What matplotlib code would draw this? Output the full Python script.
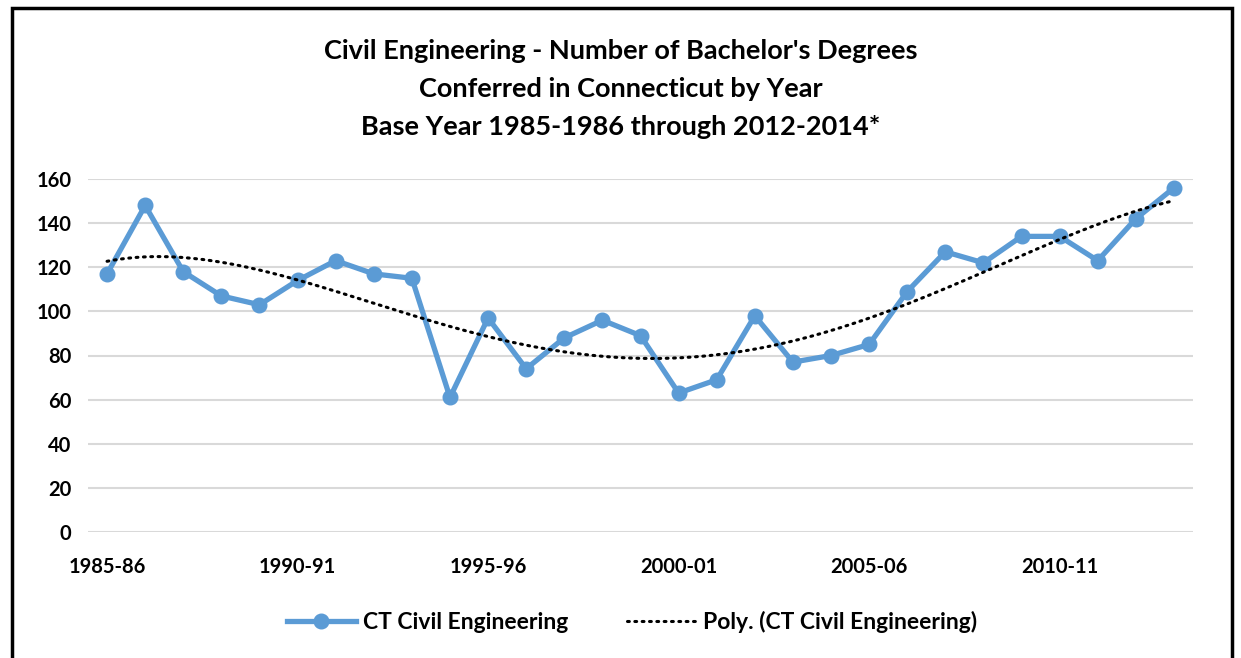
import numpy as np
import matplotlib
matplotlib.use("Agg")
import matplotlib.pyplot as plt
from matplotlib.patches import Rectangle

plt.rcParams['font.family'] = ['Lato', 'DejaVu Sans']

years = [f"{y}-{str(y + 1)[-2:]}" for y in range(1985, 2014)]
values = [117, 148, 118, 107, 103, 114, 123, 117, 115, 61,
          97, 74, 88, 96, 89, 63, 69, 98, 77, 80,
          85, 109, 127, 122, 134, 134, 123, 142, 156]
tick_every = 5
y_ticks = [0, 20, 40, 60, 80, 100, 120, 140, 160]
title = "Civil Engineering - Number of Bachelor's Degrees\nConferred in Connecticut by Year\nBase Year 1985-1986 through 2012-2014*"
series_name = "CT Civil Engineering"
trend_name = "Poly. (CT Civil Engineering)"
trend_order = 4

fig = plt.figure(figsize=(12.41, 6.58), dpi=100)
ax = fig.add_axes([88 / 1241, 1 - 532 / 658, (1193 - 88) / 1241, (532 - 179) / 658])

x = np.arange(len(values))
ax.plot(x, values, color='#5B9BD5', lw=3.8, marker='o', ms=10.5, label=series_name, zorder=3)
coef = np.polyfit(x, values, trend_order)
xs = np.linspace(0, len(values) - 1, 300)
ax.plot(xs, np.polyval(coef, xs), color='black', lw=2.2, ls=(0, (0.6, 1.8)),
        dash_capstyle='round', label=trend_name, zorder=4)

ax.set_xlim(-0.5, len(values) - 0.5)
ax.set_ylim(0, 160)
ax.set_yticks(y_ticks)
ax.set_xticks(x[::tick_every])
ax.set_xticklabels(years[::tick_every])
ax.grid(axis='y', color='#D9D9D9', lw=1.5)
ax.set_axisbelow(True)
for s in ax.spines.values():
    s.set_visible(False)
ax.tick_params(length=0, labelsize=14.5, colors='black')
ax.tick_params(axis='y', pad=12)
ax.tick_params(axis='x', pad=18)
for lab in ax.get_xticklabels() + ax.get_yticklabels():
    lab.set_fontweight('bold')

fig.text(0.5, 1 - 89 / 658, title, ha='center', va='center', fontsize=19.5,
         fontweight='bold', linespacing=1.7)

leg = fig.legend(loc='center', bbox_to_anchor=(632 / 1241, 1 - 622 / 658), ncol=2,
                 frameon=False, prop={'size': 16.5, 'weight': 'bold'},
                 handlelength=3.0, columnspacing=2.6, handletextpad=0.3)

fig.patches.append(Rectangle((12 / 1241, -0.05), (1232 - 12) / 1241, 1.05 - 8 / 658,
                             transform=fig.transFigure, fill=False, ec='black', lw=2.5))

fig.savefig('out.png', dpi=100, facecolor='white')
